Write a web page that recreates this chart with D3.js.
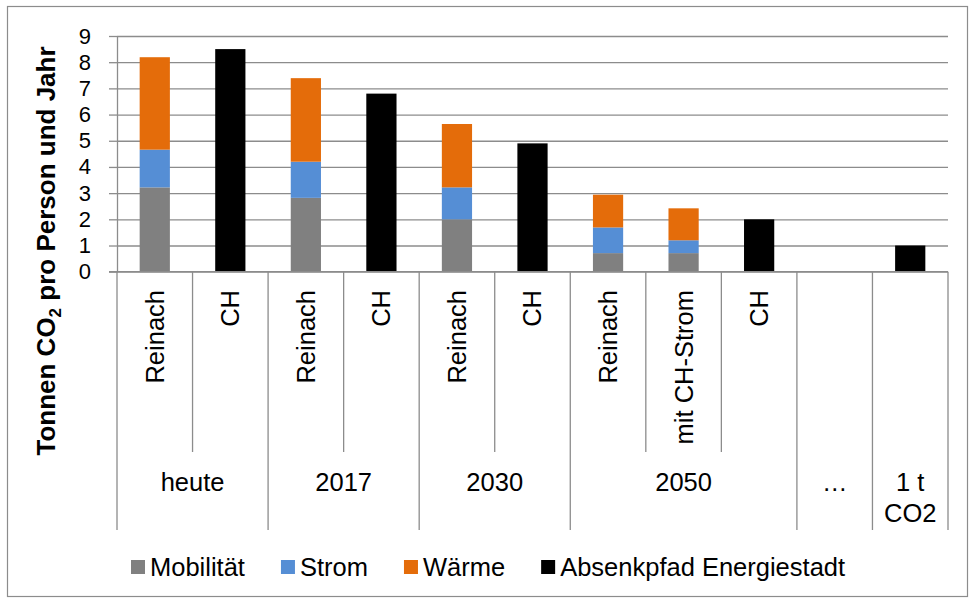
<!DOCTYPE html>
<html>
<head>
<meta charset="utf-8">
<script src="https://cdn.jsdelivr.net/npm/d3@7/dist/d3.min.js"></script>
<style>
  body { margin: 0; background: #fff; }
  svg { display: block; font-family: "Liberation Sans", Arial, sans-serif; }
</style>
</head>
<body>
<div></div>
<script>
const WIDTH = 971;
const HEIGHT = 601;

// Daten (Tonnen CO2 pro Person und Jahr)
const subLabels = ["Reinach", "CH", "Reinach", "CH", "Reinach", "CH", "Reinach", "mit CH-Strom", "CH", "", ""];
const groupLabels = ["heute", "2017", "2030", "2050", "…", "1 t\nCO2"];
const groupSizes = [2, 2, 2, 3, 1, 1];
const mobilitaet = [3.22, 0, 2.82, 0, 2.0, 0, 0.71, 0.71, 0, 0, 0];
const strom = [1.44, 0, 1.38, 0, 1.22, 0, 0.98, 0.49, 0, 0, 0];
const waerme = [3.53, 0, 3.19, 0, 2.42, 0, 1.25, 1.22, 0, 0, 0];
const absenkpfad = [0, 8.5, 0, 6.8, 0, 4.9, 0, 0, 2.0, 0, 1.0];
const yTicks = [0, 1, 2, 3, 4, 5, 6, 7, 8, 9];
const seriesNames = ["Mobilität", "Strom", "Wärme", "Absenkpfad Energiestadt"];
const colors = ["#808080", "#558ed5", "#e46c0a", "#000000"];

const LEFT = 117, RIGHT = 948, TOP = 36, BOTTOM = 271.7;
const GRID = "#8c8c8c";

const svg = d3.select("div").append("svg")
  .attr("width", WIDTH)
  .attr("height", HEIGHT);

// Rahmen
svg.append("rect")
  .attr("x", 7.5).attr("y", 6.5)
  .attr("width", 960).attr("height", 590)
  .attr("fill", "none").attr("stroke", GRID).attr("stroke-width", 1.2);

const idx = d3.range(subLabels.length);
const x = d3.scaleBand().domain(idx).range([LEFT, RIGHT]).paddingInner(0.6).paddingOuter(0.3);
const xb = d3.scaleLinear().domain([0, subLabels.length]).range([LEFT, RIGHT]);
const y = d3.scaleLinear().domain([0, 9]).range([BOTTOM, TOP]);

// Gitterlinien + y-Achse
const yAxis = svg.append("g")
  .attr("transform", `translate(${LEFT},0)`)
  .call(d3.axisLeft(y).tickValues(yTicks).tickSize(8).tickSizeOuter(0).tickPadding(18));
yAxis.select(".domain").attr("stroke", GRID).attr("stroke-width", 1.3);
yAxis.selectAll(".tick line").attr("stroke", GRID).attr("stroke-width", 1.3);
yAxis.selectAll(".tick text").attr("font-size", 22).attr("fill", "#000").attr("font-family", "Liberation Sans, Arial, sans-serif");
yAxis.selectAll(".tick").append("line")
  .attr("x1", 0).attr("x2", RIGHT - LEFT)
  .attr("stroke", GRID).attr("stroke-width", 1.3);

// gestapelte Balken
const stackData = idx.map(i => ({ i, m: mobilitaet[i], s: strom[i], w: waerme[i] }));
const stack = d3.stack().keys(["m", "s", "w"])(stackData);
svg.append("g").selectAll("g")
  .data(stack)
  .join("g")
  .attr("fill", (d, k) => colors[k])
  .selectAll("rect")
  .data(d => d.filter(p => p[1] > p[0]))
  .join("rect")
  .attr("x", p => x(p.data.i))
  .attr("width", x.bandwidth())
  .attr("y", p => y(p[1]))
  .attr("height", p => y(p[0]) - y(p[1]));

svg.append("g").selectAll("rect")
  .data(idx.filter(i => absenkpfad[i] > 0))
  .join("rect")
  .attr("fill", colors[3])
  .attr("x", i => x(i))
  .attr("width", x.bandwidth())
  .attr("y", i => y(absenkpfad[i]))
  .attr("height", i => y(0) - y(absenkpfad[i]));

// Kategorienachse
const cat = svg.append("g").attr("stroke", GRID).attr("stroke-width", 1.3);
cat.append("line").attr("x1", 109).attr("x2", RIGHT).attr("y1", BOTTOM).attr("y2", BOTTOM);
const groupEdges = [0].concat(Array.from(d3.cumsum(groupSizes)));
d3.range(subLabels.length + 1).forEach(i => {
  const long = groupEdges.includes(i);
  cat.append("line")
    .attr("x1", xb(i)).attr("x2", xb(i))
    .attr("y1", BOTTOM).attr("y2", long ? 530 : 452);
});

svg.append("g").selectAll("text")
  .data(idx)
  .join("text")
  .attr("transform", i => `translate(${x(i) + x.bandwidth() / 2},290) rotate(-90)`)
  .attr("text-anchor", "end")
  .attr("dy", "0.35em")
  .attr("font-size", 25.5)
  .text(i => subLabels[i]);

groupLabels.forEach((g, k) => {
  const cx = (xb(groupEdges[k]) + xb(groupEdges[k + 1])) / 2;
  const t = svg.append("text")
    .attr("x", cx).attr("y", 491)
    .attr("text-anchor", "middle")
    .attr("font-size", 25.5);
  g.split("\n").forEach((line, j) => {
    t.append("tspan").attr("x", cx).attr("dy", j === 0 ? 0 : 31).text(line);
  });
});

// y-Achsentitel
const title = svg.append("text")
  .attr("transform", "translate(55,251) rotate(-90)")
  .attr("text-anchor", "middle")
  .attr("font-size", 26)
  .attr("font-weight", "bold");
title.append("tspan").text("Tonnen CO");
title.append("tspan").attr("font-size", 17).attr("dy", 6).text("2");
title.append("tspan").attr("dy", -6).text(" pro Person und Jahr");

// Legende
const legend = svg.append("g");
let lx = 131;
seriesNames.forEach((name, k) => {
  legend.append("rect")
    .attr("x", lx).attr("y", 560)
    .attr("width", 14).attr("height", 14)
    .attr("fill", colors[k]);
  const t = legend.append("text")
    .attr("x", lx + 19).attr("y", 575.5)
    .attr("font-size", 25.5)
    .text(name);
  lx += 19 + t.node().getComputedTextLength() + 36;
});
</script>
</body>
</html>
